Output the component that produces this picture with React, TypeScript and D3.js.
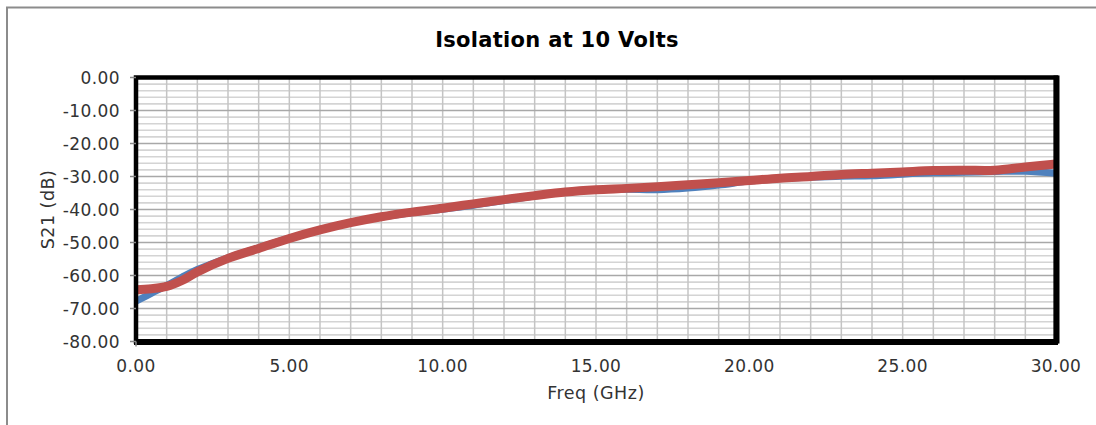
import React from "react";
import * as d3 from "d3";

const freqs = [0,0.5,1,1.5,2,3,4,5,6,7,8,9,10,11,12,13,14,15,16,17,18,19,20,21,22,23,24,25,26,27,28,29,30];
const redS21 = [-64.3,-64.0,-63.3,-61.5,-58.9,-54.8,-51.8,-48.8,-46.2,-44.0,-42.2,-40.8,-39.6,-38.3,-37.0,-35.8,-34.7,-34.0,-33.6,-33.1,-32.5,-31.9,-31.2,-30.5,-30.0,-29.4,-29.0,-28.6,-28.2,-28.1,-28.1,-27.1,-26.2];
const blueS21 = [-67.8,-65.4,-63.0,-60.5,-58.2,-54.6,-51.6,-48.7,-46.2,-44.0,-42.3,-41.0,-39.9,-38.7,-37.3,-35.9,-34.6,-34.0,-33.9,-34.0,-33.5,-32.6,-31.4,-30.6,-30.2,-29.9,-29.8,-29.3,-28.9,-28.7,-28.5,-28.4,-29.0];
const xTicks = [0,5,10,15,20,25,30];
const yTicks = [0,-10,-20,-30,-40,-50,-60,-70,-80];
const title = "Isolation at 10 Volts";
const xLabel = "Freq (GHz)";
const yLabel = "S21 (dB)";

export default function App() {
  const W = 1096, H = 425;
  const x0 = 136, x1 = 1056, y0 = 77.5, y1 = 341.5;
  const x = d3.scaleLinear().domain([0, 30]).range([x0, x1]);
  const y = d3.scaleLinear().domain([-80, 0]).range([y1, y0]);
  const line = d3.line<number>().x((_, i) => x(freqs[i])).y(d => y(d)).curve(d3.curveCatmullRom.alpha(0.5));
  const vGrid = d3.range(1, 30, 1);
  const hMinor = d3.range(-78, 0, 2).filter(v => v % 10 !== 0);
  const hMajor = d3.range(-70, 0, 10);
  const font = "'DejaVu Sans', Verdana, sans-serif";
  return (
    <svg width={W} height={H} style={{ position: "absolute", left: 0, top: 0, display: "block" }}>
      <rect x={0} y={0} width={W} height={H} fill="#fff" />
      <rect x={7} y={7.5} width={1200} height={500} fill="#fff" stroke="#8c8c8c" strokeWidth={2} />
      <text x={557} y={47} textAnchor="middle" fontFamily={font} fontWeight="bold" fontSize={21} fill="#000" letterSpacing={0.3}>{title}</text>
      <g>
        {hMinor.map(v => (
          <line key={"hm" + v} x1={x0} x2={x1} y1={y(v)} y2={y(v)} stroke="#d4d4d4" strokeWidth={1.6} />
        ))}
        {vGrid.map(v => (
          <line key={"v" + v} x1={x(v)} x2={x(v)} y1={y0} y2={y1} stroke="#c4c4c4" strokeWidth={1.5} />
        ))}
        {hMajor.map(v => (
          <line key={"hM" + v} x1={x0} x2={x1} y1={y(v)} y2={y(v)} stroke="#a8a8a8" strokeWidth={1.5} />
        ))}
      </g>
      <path d={line(blueS21) || ""} fill="none" stroke="#4f81bd" strokeWidth={7} strokeLinejoin="round" strokeLinecap="butt" />
      <path d={line(redS21) || ""} fill="none" stroke="#c0504d" strokeWidth={9} strokeLinejoin="round" strokeLinecap="butt" />
      <rect x={x0} y={y0} width={x1 - x0} height={y1 - y0} fill="none" stroke="#000" strokeWidth={4.5} />
      <line x1={x0 - 2} x2={x1 + 2} y1={y1 + 0.5} y2={y1 + 0.5} stroke="#000" strokeWidth={6} />
      <line x1={x1 + 0.5} x2={x1 + 0.5} y1={y0 - 2} y2={y1 + 2} stroke="#000" strokeWidth={6} />
      {yTicks.map(v => (
        <g key={"yt" + v}>
          <line x1={x0 - 6} x2={x0} y1={y(v)} y2={y(v)} stroke="#888" strokeWidth={1.5} />
          <text x={120} y={y(v) + 6} textAnchor="end" fontFamily={font} fontSize={17} fill="#333" letterSpacing={0.4}>{v.toFixed(2)}</text>
        </g>
      ))}
      <line x1={x0} x2={x0} y1={y1} y2={y1 + 5} stroke="#888" strokeWidth={1.5} />
      {xTicks.map(v => (
        <text key={"xt" + v} x={x(v)} y={372} textAnchor="middle" fontFamily={font} fontSize={17} fill="#333" letterSpacing={0.4}>{v.toFixed(2)}</text>
      ))}
      <text x={596} y={399} textAnchor="middle" fontFamily={font} fontSize={17.5} fill="#333" letterSpacing={0.5}>{xLabel}</text>
      <text transform={`translate(54,${(y0 + y1) / 2}) rotate(-90)`} textAnchor="middle" fontFamily={font} fontSize={17.5} fill="#333" letterSpacing={0.5}>{yLabel}</text>
    </svg>
  );
}
